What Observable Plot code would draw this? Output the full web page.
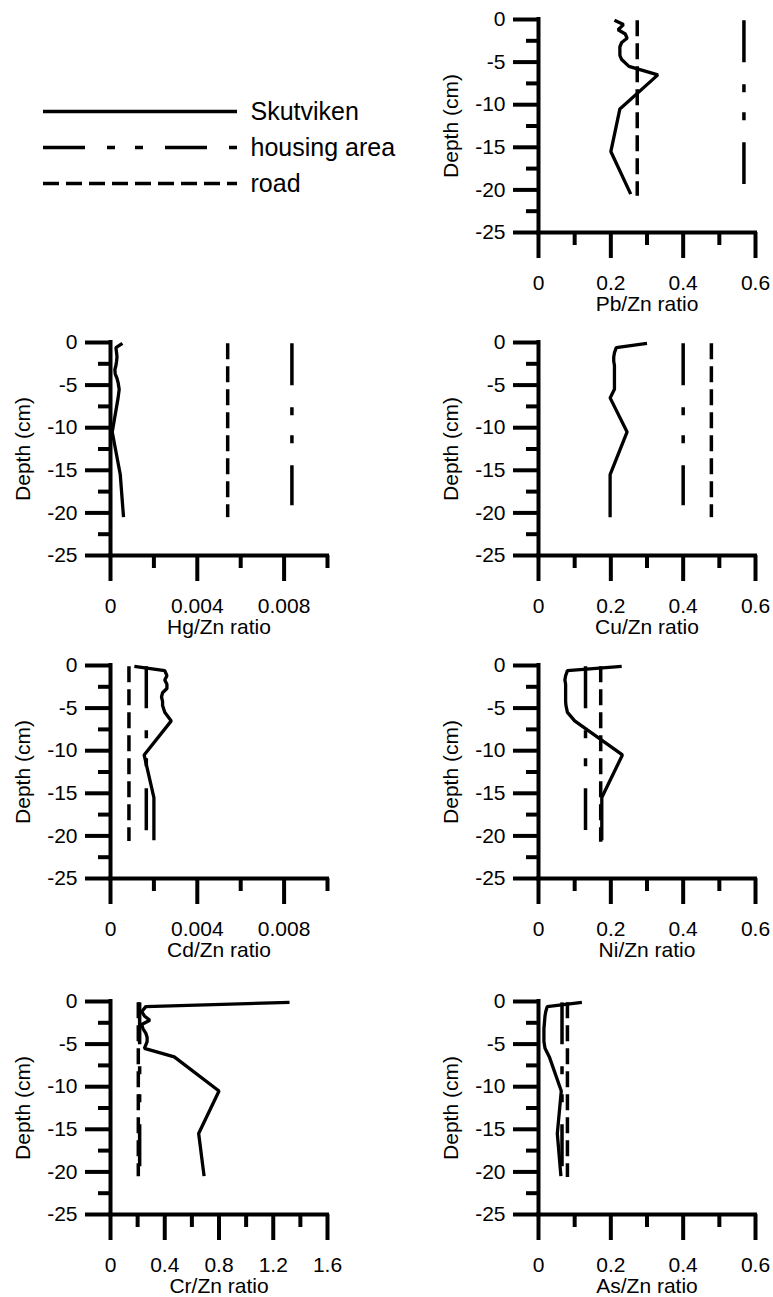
<!DOCTYPE html>
<html><head><meta charset="utf-8">
<script src="https://cdn.jsdelivr.net/npm/d3@7"></script>
<script src="https://cdn.jsdelivr.net/npm/@observablehq/plot@0.6"></script>
<style>
body{margin:0;background:#fff;}
#root{position:relative;width:773px;height:1297px;background:#fff;overflow:hidden;}
#root svg{position:absolute;overflow:visible;background:transparent;}
</style></head><body><div id="root"></div>
<script>
// ---- data ----
const series = ["Skutviken", "housing area", "road"];
const elements = ["Pb", "Hg", "Cu", "Cd", "Ni", "Cr", "As"];
const depths = [-0.1, -0.6, -1.2, -1.7, -2.2, -2.7, -3.2, -3.7, -4.2, -4.7, -5.5, -6.5, -10.5, -15.5, -20.5];
const pbSkut = [0.21, 0.235, 0.22, 0.24, 0.245, 0.23, 0.225, 0.225, 0.225, 0.23, 0.25, 0.33, 0.225, 0.2, 0.255];
const hgSkut = [0.00055, 0.00025, 0.00028, 0.0003, 0.00028, 0.00025, 0.0002, 0.00022, 0.0003, 0.00035, 0.0004, 0.00035, 0.00008, 0.00045, 0.0006];
const cuSkut = [0.30, 0.215, 0.21, 0.208, 0.208, 0.21, 0.21, 0.21, 0.21, 0.21, 0.21, 0.198, 0.245, 0.198, 0.198];
const cdSkut = [0.0011, 0.0025, 0.0026, 0.0025, 0.0026, 0.0026, 0.0024, 0.00235, 0.0024, 0.0024, 0.0025, 0.0028, 0.00155, 0.002, 0.002];
const niSkut = [0.23, 0.08, 0.075, 0.073, 0.075, 0.075, 0.075, 0.075, 0.075, 0.076, 0.08, 0.1, 0.232, 0.175, 0.175];
const crSkut = [1.32, 0.26, 0.23, 0.25, 0.29, 0.23, 0.24, 0.26, 0.27, 0.27, 0.25, 0.47, 0.8, 0.65, 0.69];
const asSkut = [0.12, 0.024, 0.02, 0.018, 0.017, 0.016, 0.015, 0.015, 0.015, 0.015, 0.018, 0.03, 0.063, 0.052, 0.062];
const skutValues = [pbSkut, hgSkut, cuSkut, cdSkut, niSkut, crSkut, asSkut];
const housingValues = [0.568, 0.00836, 0.40, 0.00165, 0.13, 0.215, 0.065];
const roadValues = [0.273, 0.0054, 0.478, 0.00085, 0.172, 0.205, 0.08];
const lineTop = -0.1;
const housingBottom = [-19.3, -19.1, -19.1, -20.6, -19.3, -20.5, -20.5];
const roadBottom = [-20.7, -20.5, -20.5, -20.6, -20.7, -20.5, -20.6];
const xMax = [0.6, 0.01, 0.6, 0.01, 0.6, 1.6, 0.6];
const ticks06 = [0, 0.2, 0.4, 0.6], minor06 = [0.1, 0.3, 0.5];
const ticks001 = [0, 0.004, 0.008], minor001 = [0.002, 0.006, 0.01];
const ticks16 = [0, 0.4, 0.8, 1.2, 1.6], minor16 = [0.2, 0.6, 1.0, 1.4];
const xMajor = [ticks06, ticks001, ticks06, ticks001, ticks06, ticks16, ticks06];
const xMinor = [minor06, minor001, minor06, minor001, minor06, minor16, minor06];
const yMajor = [0, -5, -10, -15, -20, -25];
const yMinor = [-2.5, -7.5, -12.5, -17.5, -22.5];
const yLabel = "Depth (cm)";

// ---- layout ----
const FONT = "'Liberation Sans', Arial, sans-serif";
const root = document.getElementById("root");
const FW = 217, FH = 213, ML = 110, MT = 15, MB = 80, MR = 18;
const colX = [110, 538];
const rowTop = [19, 342, 665, 1001];
const places = [[1,0],[0,1],[1,1],[0,2],[1,2],[0,3],[1,3]];
const housingDash = "42,22,8,20,8,22";
const roadDash = "16,7";

function panel(i) {
  const [c, r] = places[i];
  const data = depths.map((d, j) => ({d, v: skutValues[i][j]}));
  const house = [{d: lineTop, v: housingValues[i]}, {d: housingBottom[i], v: housingValues[i]}];
  const road = [{d: lineTop, v: roadValues[i]}, {d: roadBottom[i], v: roadValues[i]}];
  const svg = Plot.plot({
    width: ML + FW + MR, height: MT + FH + MB,
    marginLeft: ML, marginRight: MR, marginTop: MT, marginBottom: MB,
    style: {fontFamily: FONT, fontSize: "20px", color: "#000", background: "transparent", overflow: "visible"},
    x: {domain: [0, xMax[i]], axis: null},
    y: {domain: [-25, 0], axis: null},
    marks: [
      Plot.line(road, {x: "v", y: "d", stroke: "#000", strokeWidth: 3.5, strokeDasharray: roadDash, strokeLinecap: "butt"}),
      Plot.line(house, {x: "v", y: "d", stroke: "#000", strokeWidth: 3.5, strokeDasharray: housingDash, strokeLinecap: "butt"}),
      Plot.line(data, {x: "v", y: "d", stroke: "#000", strokeWidth: 3.3, strokeLinejoin: "miter", strokeLinecap: "butt"}),
      Plot.ruleX([0], {stroke: "#000", strokeWidth: 4, strokeLinecap: "square"}),
      Plot.ruleY([-25], {stroke: "#000", strokeWidth: 4, strokeLinecap: "square"}),
      Plot.axisX({anchor: "bottom", ticks: xMajor[i], tickSize: 26, strokeWidth: 4, tickFormat: () => "", label: null}),
      Plot.axisX({anchor: "bottom", ticks: xMinor[i], tickSize: 13, strokeWidth: 4, tickFormat: () => "", label: null}),
      Plot.axisY({anchor: "left", ticks: yMajor, tickSize: 25, strokeWidth: 4, tickFormat: () => "", label: null}),
      Plot.axisY({anchor: "left", ticks: yMinor, tickSize: 12, strokeWidth: 4, tickFormat: () => "", label: null}),
      Plot.text(xMajor[i], {x: d => d, text: d => String(d), frameAnchor: "bottom", dy: 43, lineAnchor: "top", textAnchor: "middle", fontSize: 21}),
      Plot.text(yMajor, {y: d => d, text: d => String(d), frameAnchor: "left", dx: -33, lineAnchor: "middle", textAnchor: "end", fontSize: 21}),
      Plot.text([`${elements[i]}/Zn ratio`], {text: d => d, frameAnchor: "bottom", dy: 72, fontSize: 21, lineAnchor: "middle", textAnchor: "middle"}),
      Plot.text([yLabel], {text: d => d, frameAnchor: "left", dx: -87, rotate: -90, fontSize: 21, lineAnchor: "middle", textAnchor: "middle"})
    ]
  });
  svg.style.left = (colX[c] - ML) + "px";
  svg.style.top = (rowTop[r] - MT) + "px";
  root.appendChild(svg);
}
elements.forEach((_, i) => panel(i));

// legend
const legend = Plot.plot({
  width: 420, height: 220,
  marginLeft: 43, marginRight: 183, marginTop: 110, marginBottom: 37,
  style: {fontFamily: FONT, color: "#000", background: "transparent", overflow: "visible"},
  x: {domain: [0, 1], axis: null},
  y: {type: "point", domain: series, axis: null, padding: 0},
  marks: [
    Plot.ruleY([series[0]], {y: d => d, x1: 0, x2: 1, stroke: "#000", strokeWidth: 3.5}),
    Plot.ruleY([series[1]], {y: d => d, x1: 0, x2: 1, stroke: "#000", strokeWidth: 3.5, strokeDasharray: housingDash}),
    Plot.ruleY([series[2]], {y: d => d, x1: 0, x2: 1, stroke: "#000", strokeWidth: 3.5, strokeDasharray: roadDash}),
    Plot.text(series, {x: 1, y: d => d, text: d => d, textAnchor: "start", dx: 13, fontSize: 25, lineAnchor: "middle"})
  ]
});
legend.style.left = "0px";
legend.style.top = "0px";
root.appendChild(legend);
</script></body></html>
